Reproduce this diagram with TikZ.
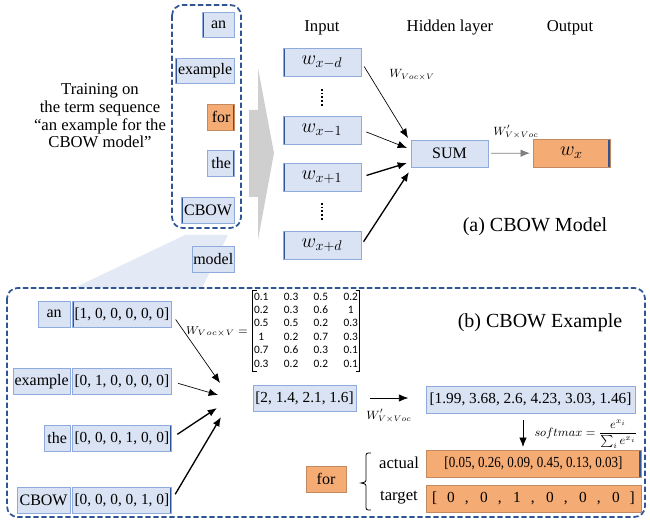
\RequirePackage{fix-cm}
\documentclass[tikz,border=0pt]{standalone}
\usepackage{fontspec}
\setmainfont{Liberation Serif}
\newfontfamily\matfont{Carlito}
\usepackage{amsmath}
\usepackage{xcolor}
\usepackage{tikz}
\usetikzlibrary{arrows.meta}

\definecolor{boxfill}{HTML}{DAE3F3}
\definecolor{boxline}{HTML}{8FAADC}
\definecolor{boxedge}{HTML}{2F5597}
\definecolor{orfill}{HTML}{F4AB74}
\definecolor{orline}{HTML}{C5895F}
\definecolor{dashblue}{HTML}{2F5597}
\definecolor{bigarrow}{HTML}{CFCFCF}
\definecolor{fan}{HTML}{E3EAF6}

\newcommand{\vecfont}{\fontsize{11.5}{13}\selectfont}

\tikzset{
  wordbox/.style={draw=boxline, fill=boxfill, line width=0.6pt, inner sep=1pt,
    minimum height=19.5pt, font=\fontsize{12}{14}\selectfont},
  hotbox/.style={wordbox, draw=orline, fill=orfill},
  inbox/.style={wordbox, edgeL, minimum width=58.5pt, minimum height=21pt, font=\fontsize{15}{17}\selectfont},
  edgeL/.style={path picture={\draw[boxedge, line width=2.4pt]
    (path picture bounding box.north west) -- (path picture bounding box.south west);}},
  edgeR/.style={path picture={\draw[boxedge, line width=2.4pt]
    (path picture bounding box.north east) -- (path picture bounding box.south east);}},
  feed/.style={-{Latex[length=7pt,width=5.5pt]}, line width=0.5pt},
  heavyfeed/.style={feed, line width=1pt},
  region/.style={draw=dashblue, line width=1.3pt, dash pattern=on 4pt off 2pt, rounded corners=8pt},
  caption/.style={inner sep=0.75pt, font=\fontsize{12.5}{13.3}\selectfont},
  weight/.style={inner sep=0.75pt, font=\fontsize{9}{11}\selectfont},
  skip/.style={line width=1.6pt, dash pattern=on 1.3pt off 1.5pt},
  bracket/.style={line width=0.6pt},
}

\begin{document}
\begin{tikzpicture}[x=0.75pt,y=0.75pt,yscale=-1,xscale=1]
	\useasboundingbox (0,0) rectangle (650,523);
	
	%Fan from the window to the example
	\fill[fan] (185,235) -- (228,235) -- (202,288) -- (74,288) -- cycle;
	%Big arrow
	\fill[bigarrow] (249,110) -- (258,110) -- (258,68) -- (274,153) -- (258,240) -- (258,197) -- (249,197) -- cycle;
	%Dashed window
	\draw[region] (172,5) rectangle (241,228);
	%Dashed example frame
	\draw[region] (7,288) rectangle (645,517);
	
	% Text Node
	\node[caption, align=center] (story) at (100,116) {Training on\\the term sequence\\“an example for the\\CBOW model”};
	
	%Term sequence
	\node[wordbox, edgeL, minimum width=24pt, minimum height=18.75pt, anchor=east] (tan) at (235,24.5) {an};
	\node[wordbox, edgeL, minimum width=44.25pt, minimum height=18.75pt, anchor=east] (texample) at (235,70.5) {example};
	\node[hotbox, edgeR, minimum width=20.25pt, anchor=east] (tfor) at (235,117) {for};
	\node[wordbox, edgeR, minimum width=20.25pt, anchor=east] (tthe) at (235,163) {the};
	\node[wordbox, edgeL, minimum width=39.75pt, anchor=east] (tcbow) at (235,210) {CBOW};
	\node[wordbox, minimum width=31.5pt, anchor=east] (tmodel) at (235,259) {model};
	
	%Column heads
	\node[caption] (hin) at (322,28) {Input};
	\node[caption] (hhid) at (450,28) {Hidden layer};
	\node[caption] (hout) at (570,28) {Output};
	
	%Input layer
	\node[inbox] (wd) at (322,62) {$w_{x-d}$};
	\node[inbox] (wm) at (322,130) {$w_{x-1}$};
	\node[inbox] (wp) at (322,177) {$w_{x+1}$};
	\node[inbox] (wpd) at (322,245) {$w_{x+d}$};
	%Dotted gaps
	\draw[skip] (322,89) -- (322,106);
	\draw[skip] (322,203) -- (322,220);
	
	%Hidden and output
	\node[wordbox, minimum width=57.75pt, minimum height=20.25pt] (sum) at (449.5,153.5) {SUM};
	\node[hotbox, edgeR, minimum width=57.75pt, minimum height=21pt, font=\fontsize{15}{17}\selectfont] (wx) at (571.5,153) {$w_x$};
	
	%Straight Lines
	\coordinate (cva) at (408,138);
	\coordinate (cvb) at (407,148);
	\coordinate (cvc) at (407,163);
	\coordinate (cvd) at (409,172);
	\draw[feed, shorten <=4pt] (wd.east) -- (cva);
	\draw[feed, shorten <=4pt] (wm.east) -- (cvb);
	\draw[heavyfeed, shorten <=4pt] (wp.east) -- (cvc);
	\draw[heavyfeed, shorten <=3pt] (wpd.east) -- (cvd);
	\draw[feed, draw=gray, shorten <=2pt, shorten >=2pt] (sum) -- (wx);
	
	% Text Node
	\node[weight] (wva) at (412,75) {$W_{Voc\times V}$};
	\node[weight] (wvb) at (516,132) {$W'_{V\times Voc}$};
	\node[caption, font=\fontsize{15}{18}\selectfont] (capa) at (535,227) {(a) CBOW Model};
	
	%Example rows
	\node[wordbox, minimum width=24pt, anchor=east] (ban) at (70.5,314) {an};
	\node[wordbox, edgeL, minimum width=74.25pt, anchor=west] (van) at (72,314) {\vecfont [1, 0, 0, 0, 0, 0]};
	\node[wordbox, minimum width=42pt, anchor=east] (bexample) at (70.5,381.5) {example};
	\node[wordbox, minimum width=74.25pt, anchor=west] (vexample) at (72,381.5) {\vecfont [0, 1, 0, 0, 0, 0]};
	\node[wordbox, minimum width=19.5pt, anchor=east] (bthe) at (70.5,438) {the};
	\node[wordbox, edgeR, minimum width=74.25pt, anchor=west] (vthe) at (72,438) {\vecfont [0, 0, 0, 1, 0, 0]};
	\node[wordbox, minimum width=39.75pt, anchor=east] (bcbow) at (70.5,500) {CBOW};
	\node[wordbox, edgeR, minimum width=74.25pt, anchor=west] (vcbow) at (72,500) {\vecfont [0, 0, 0, 0, 1, 0]};
	
	%Straight Lines
	\coordinate (bca) at (220,383);
	\coordinate (bcb) at (218,395);
	\coordinate (bcc) at (217,408);
	\coordinate (bcd) at (221,417);
	\draw[feed, shorten <=5pt] (van.east) -- (bca);
	\draw[feed, shorten <=5pt] (vexample.east) -- (bcb);
	\draw[heavyfeed, shorten <=5pt] (vthe.east) -- (bcc);
	\draw[heavyfeed, shorten <=5pt] (vcbow.east) -- (bcd);
	
	%Weight matrix
	\node[weight, font=\fontsize{8.5}{11}\selectfont, anchor=east] (wml) at (249,332) {$W_{Voc\times V} =$};
	\node[inner xsep=1pt, inner ysep=0pt, font=\matfont\fontsize{8.5}{10.1}\selectfont] (wmat) at (306,331)
	  {\setlength{\tabcolsep}{5.8pt}\begin{tabular}{@{}cccc@{}}
	  0.1 & 0.3 & 0.5 & 0.2\\ 0.2 & 0.3 & 0.6 & 1\\ 0.5 & 0.5 & 0.2 & 0.3\\
	  1 & 0.2 & 0.7 & 0.3\\ 0.7 & 0.6 & 0.3 & 0.1\\ 0.3 & 0.2 & 0.2 & 0.1
	  \end{tabular}};
	\draw[bracket] ([xshift=3pt]wmat.north west) -- (wmat.north west) -- (wmat.south west) -- ([xshift=3pt]wmat.south west);
	\draw[bracket] ([xshift=-3pt]wmat.north east) -- (wmat.north east) -- (wmat.south east) -- ([xshift=-3pt]wmat.south east);
	
	%Hidden and output vectors
	\node[wordbox, minimum width=77.25pt] (hvec) at (304.5,398) {\vecfont [2, 1.4, 2.1, 1.6]};
	\node[wordbox, minimum width=156.75pt, minimum height=20.25pt] (ovec) at (530.5,399.5) {\vecfont [1.99, 3.68, 2.6, 4.23, 3.03, 1.46]};
	\draw[feed, shorten <=10pt, shorten >=13pt] (hvec.east) -- (hvec.east -| ovec.west);
	\node[weight] (wvc) at (389,416) {$W'_{V\times Voc}$};
	
	%Prediction
	\node[hotbox, minimum width=30pt] (bfor) at (326,479) {for};
	\node[caption] (lact) at (399,463) {actual};
	\node[caption] (ltgt) at (399,498) {target};
	\node[hotbox, edgeR, minimum width=161.25pt, minimum height=20.25pt] (actbox) at (533.5,463.5)
	  {\vecfont\scalebox{0.85}[1]{[0.05, 0.26, 0.09, 0.45, 0.13, 0.03]}};
	\node[hotbox, minimum width=161.25pt, minimum height=20.25pt] (tgtbox) at (533.5,498.5)
	  {\vecfont\makebox[152pt][s]{[ 0 , 0 , 1 , 0 , 0 , 0 ]}};
	%Brace
	\draw[line width=0.6pt] (371,453) .. controls (366,453) .. (366,458) -- (366,478) .. controls (366,482) .. (361,483) .. controls (366,484) .. (366,488) -- (366,505) .. controls (366,510) .. (371,510);
	
	%Softmax
	\coordinate (smtop) at (523,420);
	\draw[feed, shorten >=2pt] (smtop) -- (smtop |- actbox.north);
	\node[weight, font=\fontsize{9}{11}\selectfont] (smx) at (586,434) {$softmax=\dfrac{e^{x_i}}{\sum_i e^{x_i}}$};
	
	% Text Node
	\node[caption, font=\fontsize{15}{18}\selectfont] (capb) at (540,323) {(b) CBOW Example};
	
\end{tikzpicture}
\end{document}
